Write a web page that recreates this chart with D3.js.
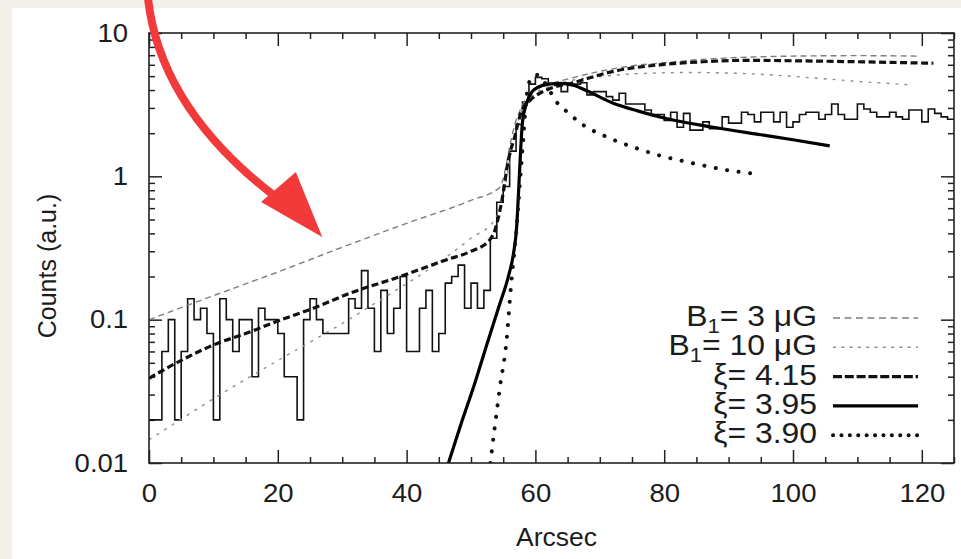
<!DOCTYPE html>
<html><head><meta charset="utf-8">
<script src="https://cdn.jsdelivr.net/npm/d3@7"></script>
<style>
html,body{margin:0;padding:0;background:#f3f0ea;}
svg{display:block;}
text{font-family:"Liberation Sans",Arial,Helvetica,sans-serif;fill:#1c1c1c;}
</style></head><body>
<svg id="chart" width="961" height="559"></svg>
<script>
// ---------------- data ----------------
const xTicks = [0, 20, 40, 60, 80, 100, 120];
const xTickLabels = ["0", "20", "40", "60", "80", "100", "120"];
const yTicks = [0.01, 0.1, 1, 10];
const yTickLabels = ["0.01", "0.1", "1", "10"];
const xTitle = "Arcsec";
const yTitle = "Counts (a.u.)";

// histogram: 1-arcsec bins starting at 0
const histStart = 0;
const histBinWidth = 1;
const histCounts = [
  0.02,0.02,0.06,0.10,0.02,0.06,0.14,0.10,0.12,0.08,
  0.02,0.14,0.10,0.06,0.10,0.10,0.04,0.12,0.10,0.10,
  0.08,0.04,0.04,0.02,0.10,0.14,0.10,0.08,0.08,0.08,
  0.08,0.14,0.12,0.22,0.12,0.06,0.16,0.08,0.12,0.20,
  0.06,0.06,0.12,0.16,0.06,0.08,0.18,0.20,0.24,0.12,
  0.18,0.12,0.16,0.37,0.66,0.85,1.5,2.3,3.3,4.4,
  4.9,4.8,4.4,4.3,3.9,4.4,4.4,4.5,3.7,3.9,
  3.9,3.6,3.4,3.8,3.2,3.2,3.2,2.9,2.7,2.7,
  2.45,2.8,2.2,2.75,2.1,2.1,2.4,2.15,2.15,2.6,
  2.35,2.35,2.8,2.7,2.4,2.8,2.8,2.4,2.8,2.2,
  2.4,2.7,2.8,2.8,2.5,2.7,3.2,2.7,2.5,2.5,
  3.2,2.95,2.8,2.6,2.6,2.8,2.6,2.5,2.9,2.9,
  2.4,2.95,2.75,2.6,2.5
];

// model curves [arcsec, counts]
const curveB3 = [[0,0.1],[10,0.147],[20,0.215],[30,0.32],[40,0.47],[50,0.68],[54.5,0.84],
  [55.3,1.1],[56,1.6],[56.8,2.3],[57.8,3.0],[59,3.7],[61,4.2],[63,4.5],[66,4.9],[70,5.4],
  [75,5.9],[80,6.2],[85,6.5],[90,6.7],[100,6.9],[110,6.95],[119.2,6.9]];
const curveB10 = [[0,0.0145],[6,0.0216],[10.5,0.029],[21,0.055],[30,0.094],[38,0.157],[41,0.19],
  [46,0.27],[50,0.37],[53.7,0.5],[54.8,0.65],[55.6,1.0],[56.4,1.6],[57.3,2.4],[58.5,3.2],
  [60,3.8],[62,4.2],[65,4.6],[70,4.95],[75,5.18],[84,5.3],[95,5.15],[103.4,4.85],[110,4.6],[118.2,4.35]];
const curveXi415 = [[0,0.039],[5,0.052],[10.5,0.068],[15,0.08],[19.8,0.097],[25.5,0.12],[31.2,0.153],
  [39,0.2],[46,0.26],[50,0.3],[52.9,0.36],[53.7,0.42],[54.8,0.68],[55.8,1.3],[56.8,1.9],[57.9,2.9],
  [59.2,3.4],[61.7,4.0],[65.9,4.5],[72.1,5.4],[79.3,6.0],[86,6.3],[92.8,6.45],[100,6.4],[110,6.3],[121.8,6.15]];
const curveXi395 = [[46.5,0.01],[48.5,0.019],[50.5,0.035],[52.5,0.068],[54.5,0.13],[55.8,0.2],[56.6,0.29],
  [57.1,0.45],[57.4,0.8],[57.7,1.5],[58,2.4],[58.6,3.2],[59.5,3.9],[60.5,4.2],[62,4.4],[64,4.45],
  [66,4.3],[68,3.95],[72,3.25],[76,2.85],[80,2.55],[87.6,2.2],[95,1.95],[100,1.8],[105.7,1.63]];
const curveXi390 = [[53,0.01],[54.5,0.034],[55.5,0.07],[56.2,0.17],[57,0.4],[57.6,0.9],[58.1,1.8],
  [58.6,3.5],[59.3,4.8],[60.2,5.1],[61.3,4.6],[62.3,3.9],[63.3,3.3],[65,2.8],[67,2.35],[71,1.89],
  [75,1.61],[79,1.41],[85,1.22],[90,1.1],[93.5,1.05]];

const legendMain = ["B", "B", "ξ", "ξ", "ξ"];
const legendSub = ["1", "1", "", "", ""];
const legendRest = ["= 3 μG", "= 10 μG", "= 4.15", "= 3.95", "= 3.90"];

// annotation arrow (data coordinates)
const arrowStart = [-0.16, 17.6];
const arrowControl = [1.7, 2.9];
const arrowEnd = [20.3, 0.684];
const arrowHead = [[26.9, 0.377], [17.4, 0.662], [22.8, 1.073]];

// ---------------- drawing ----------------
const svg = d3.select("#chart");
const W = 961, H = 559;
const L = 149, R = 954, T = 33, B = 463;
const STRETCH = 1.1;

svg.append("rect").attr("x", 0).attr("y", 0).attr("width", W).attr("height", H).attr("fill", "#f3f0ea");
svg.append("rect").attr("x", 12).attr("y", 8).attr("width", W - 12).attr("height", H - 8).attr("fill", "#ffffff");

const x = d3.scaleLinear().domain([0, 125]).range([L, R]);
const y = d3.scaleLog().domain([0.01, 10]).range([B, T]);

const defs = svg.append("defs");
defs.append("clipPath").attr("id", "plotclip").append("rect")
  .attr("x", L).attr("y", T).attr("width", R - L).attr("height", B - T);

// minor tick values
const xMinor = d3.range(0, 126, 5).filter(v => v % 20 !== 0);
const yMinor = [];
[0.01, 0.1, 1].forEach(d => { for (let k = 2; k <= 9; k++) yMinor.push(d * k); });

function styleAxis(g) {
  g.select(".domain").remove();
  g.selectAll(".tick line").attr("stroke", "#222").attr("stroke-width", 1.5);
  g.selectAll(".tick text").style("font-size", "25px").attr("fill", "#1c1c1c")
    .attr("transform", `scale(${STRETCH},1)`);
}

// bottom
svg.append("g").attr("transform", `translate(0,${B})`)
  .call(d3.axisBottom(x).tickValues(xTicks).tickFormat((d, i) => xTickLabels[i]).tickSize(-13).tickPadding(21))
  .call(styleAxis);
svg.append("g").attr("transform", `translate(0,${B})`)
  .call(d3.axisBottom(x).tickValues(xMinor).tickFormat("").tickSize(-6)).call(styleAxis);
// top
svg.append("g").attr("transform", `translate(0,${T})`)
  .call(d3.axisTop(x).tickValues(xTicks).tickFormat("").tickSize(-13)).call(styleAxis);
svg.append("g").attr("transform", `translate(0,${T})`)
  .call(d3.axisTop(x).tickValues(xMinor).tickFormat("").tickSize(-6)).call(styleAxis);
// left
svg.append("g").attr("transform", `translate(${L},0)`)
  .call(d3.axisLeft(y).tickValues(yTicks).tickFormat((d, i) => yTickLabels[i]).tickSize(-13).tickPadding(19))
  .call(styleAxis);
svg.append("g").attr("transform", `translate(${L},0)`)
  .call(d3.axisLeft(y).tickValues(yMinor).tickFormat("").tickSize(-6)).call(styleAxis);
// right
svg.append("g").attr("transform", `translate(${R},0)`)
  .call(d3.axisRight(y).tickValues(yTicks).tickFormat("").tickSize(-13)).call(styleAxis);
svg.append("g").attr("transform", `translate(${R},0)`)
  .call(d3.axisRight(y).tickValues(yMinor).tickFormat("").tickSize(-6)).call(styleAxis);

// plot content
const plot = svg.append("g").attr("clip-path", "url(#plotclip)");

// histogram as step line
const histPts = histCounts.map((v, i) => [histStart + i * histBinWidth, v]);
histPts.push([histStart + histCounts.length * histBinWidth, histCounts[histCounts.length - 1]]);
plot.append("path").datum(histPts)
  .attr("d", d3.line().x(d => x(d[0])).y(d => y(d[1])).curve(d3.curveStepAfter))
  .attr("fill", "none").attr("stroke", "#111").attr("stroke-width", 1.6);

const curveLine = d3.line().x(d => x(d[0])).y(d => y(d[1])).curve(d3.curveMonotoneX);

const styles = [
  {data: curveB3, stroke: "#7d7d7d", w: 1.4, dash: "6,4", cap: "butt", legDash: "7,4.5"},
  {data: curveB10, stroke: "#8c8c8c", w: 1.4, dash: "3,6", cap: "butt", legDash: "3,5.3"},
  {data: curveXi415, stroke: "#111", w: 3.2, dash: "7,3.5", cap: "butt", legDash: "9,2.8"},
  {data: curveXi395, stroke: "#000", w: 3.2, dash: null, cap: "butt", legDash: null},
  {data: curveXi390, stroke: "#111", w: 4, dash: "0.1,11.5", cap: "round", legDash: "0.1,8.3"}
];

styles.forEach(s => {
  plot.append("path").datum(s.data).attr("d", curveLine)
    .attr("fill", "none").attr("stroke", s.stroke).attr("stroke-width", s.w)
    .attr("stroke-dasharray", s.dash).attr("stroke-linecap", s.cap);
});

// frame
svg.append("rect").attr("x", L).attr("y", T).attr("width", R - L).attr("height", B - T)
  .attr("fill", "none").attr("stroke", "#222").attr("stroke-width", 1.6);

// legend
const legY0 = 318, legStep = 29.3, legTextX = 817, legL0 = 833, legL1 = 918;
styles.forEach((s, i) => {
  const yy = legY0 + i * legStep;
  const g = svg.append("g").attr("transform", `translate(${legTextX},${yy + 8}) scale(${STRETCH},1)`);
  const t = g.append("text").attr("x", 0).attr("y", 0)
    .attr("text-anchor", "end").style("font-size", "29px");
  t.append("tspan").text(legendMain[i]);
  if (legendSub[i]) {
    t.append("tspan").attr("dy", 7).style("font-size", "20px").text(legendSub[i]);
    t.append("tspan").attr("dy", -7).text(legendRest[i]);
  } else {
    t.append("tspan").text(legendRest[i]);
  }
  svg.append("line").attr("x1", legL0).attr("x2", legL1).attr("y1", yy).attr("y2", yy)
    .attr("stroke", s.stroke).attr("stroke-width", s.w).attr("stroke-dasharray", s.legDash)
    .attr("stroke-linecap", s.cap);
});

// axis titles
svg.append("g").attr("transform", `translate(${(L + R) / 2 + 5},546) scale(1.06,1)`)
  .append("text").attr("text-anchor", "middle").style("font-size", "25px").text(xTitle);
svg.append("text").attr("transform", "translate(56,266) rotate(-90)").attr("text-anchor", "middle")
  .style("font-size", "25px").text(yTitle);

// red arrow annotation
const p = d => [x(d[0]), y(d[1])];
const s0 = p(arrowStart), c0 = p(arrowControl), e0 = p(arrowEnd);
svg.append("path").attr("d", `M${s0[0]},${s0[1]} Q${c0[0]},${c0[1]} ${e0[0]},${e0[1]}`)
  .attr("fill", "none").attr("stroke", "#f33a3a").attr("stroke-width", 8);
svg.append("path").attr("d", "M" + arrowHead.map(p).map(q => q.join(",")).join("L") + "Z")
  .attr("fill", "#f33a3a");
</script>
</body></html>
